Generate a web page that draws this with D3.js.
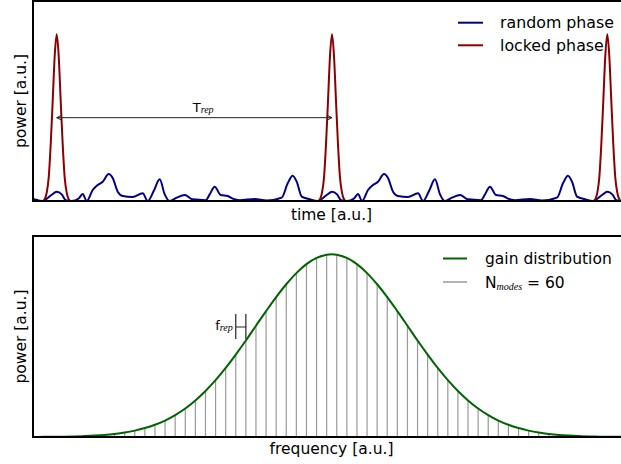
<!DOCTYPE html>
<html>
<head>
<meta charset="utf-8">
<script src="https://cdn.jsdelivr.net/npm/d3@7/dist/d3.min.js"></script>
<style>
    body { margin: 0; background: #fff; }
    text { font-family: 'DejaVu Sans', sans-serif; fill: #000; }
    .sub { font-family: 'Liberation Serif', serif; font-style: italic; }
</style>
</head>
<body>
<div id="chart"></div>
<script>
//Colores fijos
const COLOR_RANDOM = '#00008b',
COLOR_LOCKED = '#8b0000',
COLOR_GAIN = '#006400',
COLOR_MODES = '#999999';

//Datos
//Panel superior: posiciones de los pulsos (tiempo en u.a.)
const pulsePeaks = [23.7, 299, 574.3];
//Forma de un pulso (fase bloqueada)
const pulseOffset = [-14, -12, -10, -8, -6, -4, -2, 0, 2, 4, 6, 8, 10, 12, 14];
const pulsePower = [0, 0.01, 0.05, 0.14, 0.34, 0.6, 0.87, 1, 0.87, 0.6, 0.34, 0.14, 0.05, 0.01, 0];
//Un periodo de la señal con fase aleatoria (desde el pulso)
const randomOffset = [0, 5, 9, 15, 22, 26, 30, 36, 41, 46, 52, 56, 61, 66, 76, 86, 91, 97, 103, 108, 113, 120, 128, 136, 149, 153, 158, 164, 171, 176, 183, 198, 210, 225, 231, 236, 240, 245, 253, 261, 270];
const randomPower = [0.056, 0.04, 0.005, 0, 0.015, 0.042, 0, 0.066, 0.096, 0.116, 0.162, 0.138, 0.056, 0.03, 0.024, 0.046, 0, 0.06, 0.13, 0.04, 0, 0.02, 0.036, 0.01, 0.005, 0.04, 0.086, 0.036, 0.03, 0.014, 0.005, 0.012, 0.003, 0.02, 0.106, 0.152, 0.116, 0.026, 0.01, 0, 0.036];

//Panel inferior: ganancia de cada modo (60 modos)
const modeGain = [0.0005, 0.0008, 0.0013, 0.002, 0.0032, 0.005, 0.0076, 0.0114, 0.0169, 0.0245, 0.035, 0.049, 0.067, 0.09, 0.12, 0.156, 0.2, 0.252, 0.311, 0.378, 0.451, 0.528, 0.609, 0.689, 0.766, 0.836, 0.897, 0.946, 0.98, 0.998,
    0.998, 0.98, 0.946, 0.897, 0.836, 0.766, 0.689, 0.609, 0.528, 0.451, 0.378, 0.311, 0.252, 0.2, 0.156, 0.12, 0.09, 0.067, 0.049, 0.035, 0.0245, 0.0169, 0.0114, 0.0076, 0.005, 0.0032, 0.002, 0.0013, 0.0008, 0.0005];

//Textos
const legendTop = ['random phase', 'locked phase'];

///Valores iniciales de altura, anchura y márgenes
let width = 597;
let top1 = {left: 33, top: 1, height: 200},
    top2 = {left: 33, top: 236, height: 201};

let svg = d3.select('#chart')
    .append('svg')
        .attr('width', 621)
        .attr('height', 464);

/////
// Panel superior
/////
let g1 = svg.append('g').attr('transform', 'translate(' + top1.left + ',' + top1.top + ')');

let x1 = d3.scaleLinear().domain([0, 597]).range([0, width]);
let y1 = d3.scaleLinear().domain([0, 1.2]).range([top1.height, 0]);

g1.append('clipPath').attr('id', 'clip1')
    .append('rect').attr('width', width).attr('height', top1.height);

let period = pulsePeaks[1] - pulsePeaks[0];
let starts = [pulsePeaks[0] - period].concat(pulsePeaks);

let randomData = [];
starts.forEach(function(s) {
    randomOffset.forEach(function(o, i) {
        randomData.push({t: s + o, p: randomPower[i]});
    });
});
randomData = randomData.filter(function(d) { return d.t > -20 && d.t < 620; });

let lockedData = [{t: 0, p: 0}];
pulsePeaks.forEach(function(c) {
    pulseOffset.forEach(function(o, i) {
        lockedData.push({t: c + o, p: pulsePower[i]});
    });
});
lockedData.push({t: 597, p: 0});

let line1 = d3.line()
    .x(function(d) { return x1(d.t); })
    .y(function(d) { return y1(d.p); })
    .curve(d3.curveMonotoneX);

g1.append('path')
    .datum(randomData)
    .attr('clip-path', 'url(#clip1)')
    .attr('fill', 'none')
    .attr('stroke', COLOR_RANDOM)
    .attr('stroke-width', 2)
    .attr('d', line1);

g1.append('path')
    .datum(lockedData)
    .attr('clip-path', 'url(#clip1)')
    .attr('fill', 'none')
    .attr('stroke', COLOR_LOCKED)
    .attr('stroke-width', 2)
    .attr('d', line1);

//Flecha T_rep entre dos pulsos
let ay = y1(0.5);
let ax0 = x1(pulsePeaks[0]), ax1 = x1(pulsePeaks[1]);
g1.append('line')
    .attr('x1', ax0).attr('x2', ax1).attr('y1', ay).attr('y2', ay)
    .attr('stroke', '#222').attr('stroke-width', 1);
g1.append('path')
    .attr('d', 'M' + (ax0 + 5) + ',' + (ay - 2.5) + 'L' + ax0 + ',' + ay + 'L' + (ax0 + 5) + ',' + (ay + 2.5))
    .attr('fill', 'none').attr('stroke', '#222').attr('stroke-width', 1);
g1.append('path')
    .attr('d', 'M' + (ax1 - 5) + ',' + (ay - 2.5) + 'L' + ax1 + ',' + ay + 'L' + (ax1 - 5) + ',' + (ay + 2.5))
    .attr('fill', 'none').attr('stroke', '#222').attr('stroke-width', 1);

let tRep = g1.append('text')
    .attr('x', 159.7).attr('y', ay - 5.5)
    .style('font-size', '13px');
tRep.append('tspan').text('T');
tRep.append('tspan').attr('class', 'sub').attr('dy', 1).style('font-size', '10px').text('rep');

//Marco
g1.append('rect')
    .attr('width', width).attr('height', top1.height)
    .attr('fill', 'none').attr('stroke', '#000').attr('stroke-width', 2);

//Leyenda
let legColors = [COLOR_RANDOM, COLOR_LOCKED];
legendTop.forEach(function(label, i) {
    let ly = 22.7 + i * 22.6;
    svg.append('line')
        .attr('x1', 458).attr('x2', 483).attr('y1', ly).attr('y2', ly)
        .attr('stroke', legColors[i]).attr('stroke-width', 2);
    svg.append('text')
        .attr('x', 500).attr('y', ly + 5.3)
        .style('font-size', '15.8px')
        .text(label);
});

//Ejes
svg.append('text')
    .attr('x', top1.left + width / 2).attr('y', 220)
    .attr('text-anchor', 'middle').style('font-size', '15.5px')
    .text('time [a.u.]');
svg.append('text')
    .attr('transform', 'translate(25.5,' + (top1.top + top1.height / 2) + ') rotate(-90)')
    .attr('text-anchor', 'middle').style('font-size', '15.5px')
    .text('power [a.u.]');

/////
// Panel inferior
/////
let g2 = svg.append('g').attr('transform', 'translate(' + top2.left + ',' + top2.top + ')');

let x2 = d3.scaleLinear().domain([-0.08, 59.04]).range([0, width]);
let y2 = d3.scaleLinear().domain([0, 1.1]).range([top2.height, 0]);

//Modos
g2.selectAll('.mode')
    .data(modeGain)
    .enter()
    .append('line')
    .attr('class', 'mode')
    .attr('x1', function(d, i) { return x2(i); })
    .attr('x2', function(d, i) { return x2(i); })
    .attr('y1', y2(0))
    .attr('y2', function(d) { return y2(d); })
    .attr('stroke', COLOR_MODES)
    .attr('stroke-width', 1.2);

let line2 = d3.line()
    .x(function(d, i) { return x2(i); })
    .y(function(d) { return y2(d); })
    .curve(d3.curveCatmullRom);

g2.append('path')
    .datum(modeGain)
    .attr('fill', 'none')
    .attr('stroke', COLOR_GAIN)
    .attr('stroke-width', 2)
    .attr('d', line2);

//Marcador f_rep entre los modos 20 y 21
let fx0 = x2(20), fx1 = x2(21);
let fyTop = y2(0.673), fyBot = y2(0.536), fyMid = y2(0.602);
g2.append('path')
    .attr('d', 'M' + fx0 + ',' + fyTop + 'V' + fyBot + 'M' + fx1 + ',' + fyTop + 'V' + fyBot + 'M' + fx0 + ',' + fyMid + 'H' + fx1)
    .attr('fill', 'none').attr('stroke', '#222').attr('stroke-width', 1.2);

let fRep = g2.append('text')
    .attr('x', fx0 - 3).attr('y', fyMid + 3)
    .attr('text-anchor', 'end')
    .style('font-size', '13px');
fRep.append('tspan').text('f');
fRep.append('tspan').attr('class', 'sub').attr('dy', 1.5).style('font-size', '10px').text('rep');

g2.append('rect')
    .attr('width', width).attr('height', top2.height)
    .attr('fill', 'none').attr('stroke', '#000').attr('stroke-width', 2);

//Leyenda
svg.append('line')
    .attr('x1', 443).attr('x2', 467).attr('y1', 258.5).attr('y2', 258.5)
    .attr('stroke', COLOR_GAIN).attr('stroke-width', 2);
svg.append('text')
    .attr('x', 485).attr('y', 264)
    .style('font-size', '15.5px')
    .text('gain distribution');
svg.append('line')
    .attr('x1', 443).attr('x2', 467).attr('y1', 282).attr('y2', 282)
    .attr('stroke', COLOR_MODES).attr('stroke-width', 1.5);
let nModes = svg.append('text')
    .attr('x', 485).attr('y', 288)
    .style('font-size', '15.5px');
nModes.append('tspan').text('N');
nModes.append('tspan').attr('class', 'sub').attr('dy', 2).style('font-size', '10px').text('modes');
nModes.append('tspan').attr('dy', -2).text(' = ' + modeGain.length);

svg.append('text')
    .attr('x', top2.left + width / 2).attr('y', 454)
    .attr('text-anchor', 'middle').style('font-size', '15.5px')
    .text('frequency [a.u.]');
svg.append('text')
    .attr('transform', 'translate(25.5,' + (top2.top + top2.height / 2) + ') rotate(-90)')
    .attr('text-anchor', 'middle').style('font-size', '15.5px')
    .text('power [a.u.]');
</script>
</body>
</html>
